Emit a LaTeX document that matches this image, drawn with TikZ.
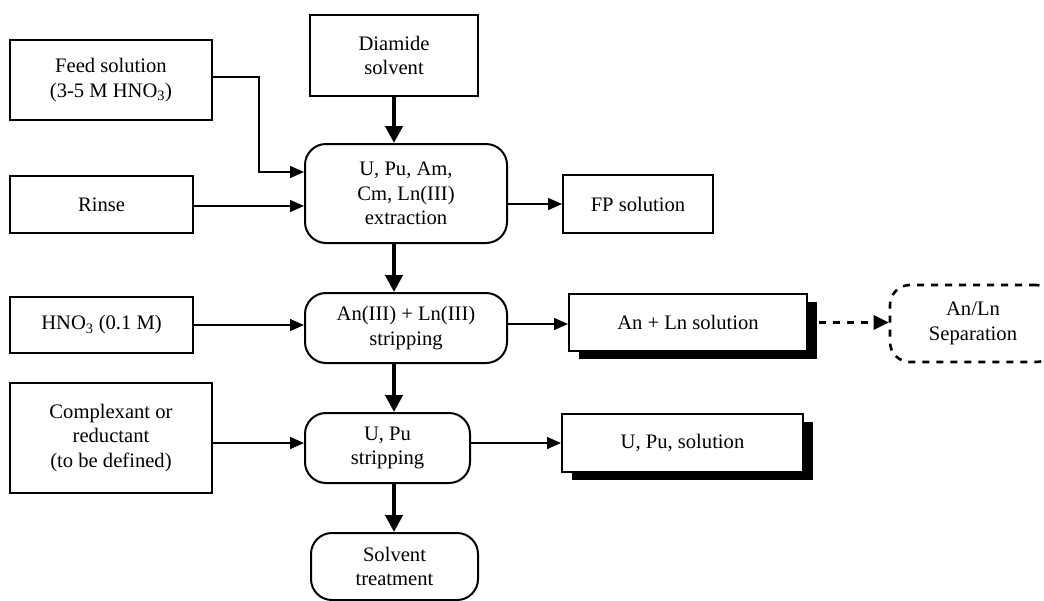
\documentclass[tikz,border=0pt]{standalone}
\usepackage{fontspec}
\setmainfont{Liberation Serif}
\usetikzlibrary{arrows.meta,shadows}

\begin{document}
\begin{tikzpicture}[x=1pt,y=-1pt,
  every node/.style={font=\fontsize{20.6}{24.5}\selectfont, align=center, inner sep=0pt},
  inbox/.style={draw, line width=2pt, rectangle},
  procbox/.style={draw, line width=2pt, rectangle, rounded corners=21pt},
  outbox/.style={draw, line width=2pt, rectangle, fill=white,
    drop shadow={shadow xshift=10pt, shadow yshift=-8pt, fill=black, opacity=1}},
  sepbox/.style={draw, line width=2.6pt, rectangle, rounded corners=20pt, dash pattern=on 7pt off 7pt},
  feedline/.style={line width=1.4pt, -{Triangle[length=14pt,width=12pt]}},
  mainflow/.style={line width=4.5pt, -{Triangle[length=17pt,width=17pt]}},
  sepline/.style={line width=2.8pt, dash pattern=on 7pt off 7pt, -{Triangle[length=15pt,width=14pt]}}
]
\useasboundingbox (0,0) rectangle (1044,600);
\clip (0,0) rectangle (1044,600);

% feed streams
\node[inbox, minimum width=202pt, minimum height=80pt] (feed) at (111,80)
  {Feed solution\\(3-5 M HNO\textsubscript{3})};
\node[inbox, minimum width=183pt, minimum height=57pt] (rinse) at (101.5,204.5) {Rinse};
\node[inbox, minimum width=183pt, minimum height=56pt] (hno) at (101.5,325)
  {HNO\textsubscript{3} (0.1 M)};
\node[inbox, minimum width=202pt, minimum height=110pt] (comp) at (111,438)
  {Complexant or\\reductant\\(to be defined)};
\node[inbox, minimum width=168pt, minimum height=81pt] (diamide) at (394,55.5)
  {Diamide\\solvent};

% process steps
\node[procbox, minimum width=202pt, minimum height=99pt] (extr) at (406,193.5)
  {U, Pu, Am,\\Cm, Ln(III)\\extraction};
\node[procbox, minimum width=202pt, minimum height=70pt] (stripA) at (406,328)
  {An(III) + Ln(III)\\stripping};
\node[procbox, minimum width=165pt, minimum height=70pt] (stripU) at (387.5,448)
  {U, Pu\\stripping};
\node[procbox, minimum width=167pt, minimum height=67pt] (solv) at (394.5,566.5)
  {Solvent\\treatment};

% products
\node[inbox, minimum width=150pt, minimum height=58pt] (fp) at (638,204) {FP solution};
\node[outbox, minimum width=238pt, minimum height=57pt] (anln) at (688,322.5) {An + Ln solution};
\node[outbox, minimum width=241pt, minimum height=58pt] (upu) at (682.5,443) {U, Pu, solution};
\node[sepbox, minimum width=166pt, minimum height=77pt] (sep) at (973,323.5)
  {An/Ln\\Separation};

% main solvent flow
\draw[mainflow] (diamide.south) -- (diamide.south |- extr.north);
\draw[mainflow] (diamide.south |- extr.south) -- (diamide.south |- stripA.north);
\draw[mainflow] (diamide.south |- stripA.south) -- (diamide.south |- stripU.north);
\draw[mainflow] (diamide.south |- stripU.south) -- (diamide.south |- solv.north);

% aqueous inlets
\draw[feedline] ([yshift=3pt]feed.east) -- ++(46,0) |- ([yshift=21.5pt]extr.west);
\draw[feedline] ([yshift=-1.5pt]rinse.east) -- ([yshift=-1.5pt]rinse.east -| extr.west);
\draw[feedline] (hno.east) -- (hno.east -| stripA.west);
\draw[feedline] ([yshift=-5pt]comp.east) -- ([yshift=-5pt]comp.east -| stripU.west);

% outlets
\draw[feedline] (fp.west -| extr.east) -- (fp.west);
\draw[feedline] ([yshift=-1.5pt]anln.west -| stripA.east) -- ([yshift=-1.5pt]anln.west);
\draw[feedline] (stripU.east |- upu.west) -- (upu.west);
\draw[sepline] ([xshift=11pt]anln.east) -- (anln.east -| sep.west);
\end{tikzpicture}
\end{document}
